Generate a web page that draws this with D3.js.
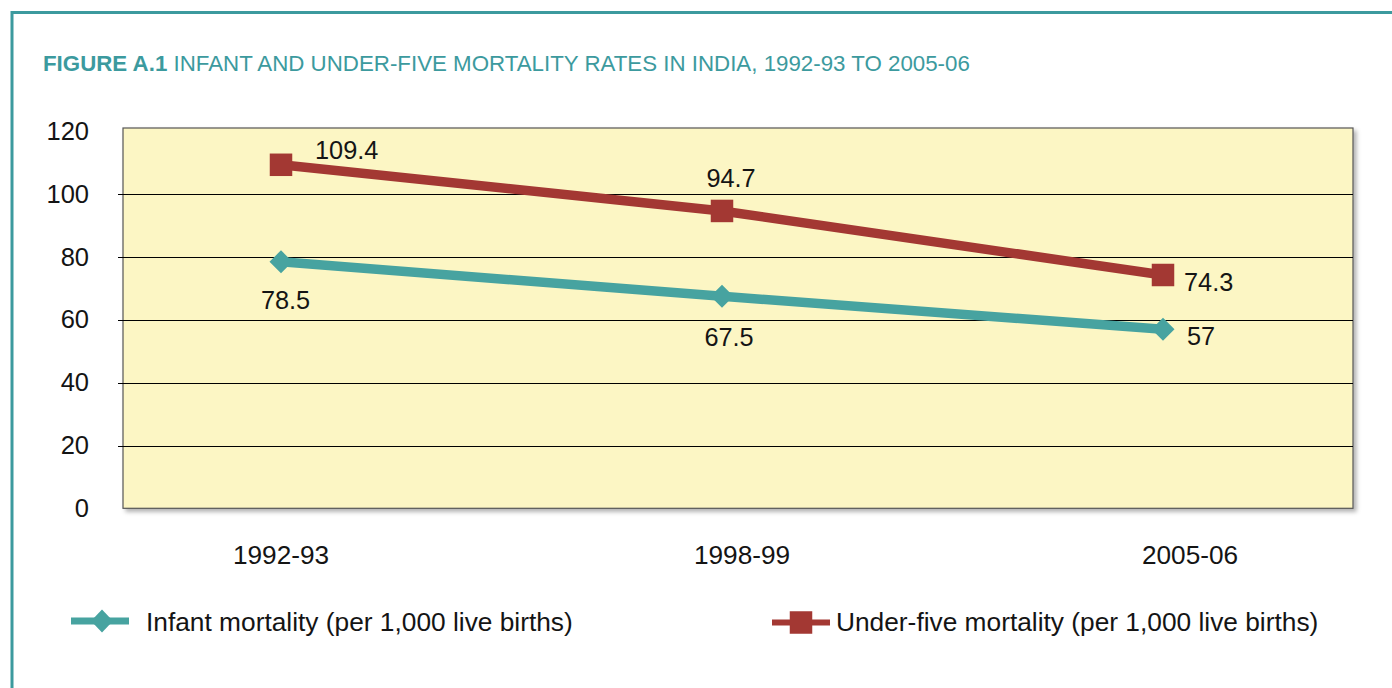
<!DOCTYPE html>
<html>
<head>
<meta charset="utf-8">
<script src="https://cdn.jsdelivr.net/npm/d3@7"></script>
<style>
  html, body { margin: 0; padding: 0; background: #fff; }
  svg { display: block; font-family: "Liberation Sans", Arial, Helvetica, sans-serif; }
</style>
</head>
<body>
<svg id="chart" width="1392" height="688"></svg>
<script>
// Survey rounds and rates per 1,000 live births
const periods = ["1992-93", "1998-99", "2005-06"];
const infantMortality = [78.5, 67.5, 57];
const underFiveMortality = [109.4, 94.7, 74.3];
const yTickValues = [0, 20, 40, 60, 80, 100, 120];
const seriesNames = [
  "Infant mortality (per 1,000 live births)",
  "Under-five mortality (per 1,000 live births)"
];

const TEAL = "#47a3a0";
const RED = "#a33833";
const TITLE_TEAL = "#3c9a9e";
const INK = "#141414";

const svg = d3.select("#chart");

// Outer figure frame (top and left edges visible)
svg.append("path")
  .attr("d", "M12,700 L12,12.5 L1400,12.5")
  .attr("fill", "none")
  .attr("stroke", TITLE_TEAL)
  .attr("stroke-width", 3);

// Title
const title = svg.append("text")
  .attr("x", 43)
  .attr("y", 71)
  .attr("font-size", 22.3)
  .attr("fill", TITLE_TEAL);
title.append("tspan").attr("font-weight", "bold").text("FIGURE A.1");
title.append("tspan").text(" INFANT AND UNDER-FIVE MORTALITY RATES IN INDIA, 1992-93 TO 2005-06");

// Plot area
const plot = { left: 123, right: 1353, top: 128, bottom: 508.3 };

const y = d3.scaleLinear().domain([0, 120]).range([plot.bottom, 131.5]);
const xPoint = d3.scalePoint().domain(periods).range([281, 1163]);
const xLabel = d3.scaleOrdinal().domain(periods).range([281, 742, 1190]);

// Drop shadow for the plot box
const defs = svg.append("defs");
const shadow = defs.append("filter").attr("id", "plotShadow")
  .attr("x", "-2%").attr("y", "-2%").attr("width", "104%").attr("height", "106%");
shadow.append("feDropShadow")
  .attr("dx", 3).attr("dy", 3).attr("stdDeviation", 2)
  .attr("flood-color", "#000").attr("flood-opacity", 0.3);

svg.append("rect")
  .attr("x", plot.left).attr("y", plot.top)
  .attr("width", plot.right - plot.left).attr("height", plot.bottom - plot.top)
  .attr("fill", "#fcf6c4")
  .attr("stroke", "#555")
  .attr("stroke-width", 1.2)
  .attr("filter", "url(#plotShadow)");

// Gridlines with short ticks extending left of the box
const gridVals = yTickValues.filter(v => v > 0 && v < 120);
svg.append("g").selectAll("line")
  .data(gridVals)
  .join("line")
  .attr("x1", plot.left - 5).attr("x2", plot.right)
  .attr("y1", d => Math.round(y(d)) + 0.5).attr("y2", d => Math.round(y(d)) + 0.5)
  .attr("stroke", "#000").attr("stroke-width", 1);

// Y tick labels
svg.append("g").selectAll("text")
  .data(yTickValues)
  .join("text")
  .attr("x", 89)
  .attr("y", d => y(d) + 8.5)
  .attr("text-anchor", "end")
  .attr("font-size", 25.5)
  .attr("fill", INK)
  .text(d => d);

// X category labels
svg.append("g").selectAll("text")
  .data(periods)
  .join("text")
  .attr("x", d => xLabel(d))
  .attr("y", 564)
  .attr("text-anchor", "middle")
  .attr("font-size", 26.2)
  .attr("fill", INK)
  .text(d => d);

// Series
const series = [
  { name: seriesNames[0], values: infantMortality, color: TEAL, marker: "diamond",
    labels: [ { dx: 4.5, dy: 47, anchor: "middle" },
              { dx: 7, dy: 50, anchor: "middle" },
              { dx: 24, dy: 16, anchor: "start" } ] },
  { name: seriesNames[1], values: underFiveMortality, color: RED, marker: "square",
    labels: [ { dx: 34, dy: -5.5, anchor: "start" },
              { dx: 9, dy: -23.5, anchor: "middle" },
              { dx: 21, dy: 16, anchor: "start" } ] }
];

const line = d3.line()
  .x((d, i) => xPoint(periods[i]))
  .y(d => y(d));

function drawMarker(g, type, cx, cy, w, h, color) {
  if (type === "diamond") {
    g.append("path")
      .attr("d", `M${cx},${cy - h / 2} L${cx + w / 2},${cy} L${cx},${cy + h / 2} L${cx - w / 2},${cy} Z`)
      .attr("fill", color);
  } else {
    g.append("rect")
      .attr("x", cx - w / 2).attr("y", cy - h / 2)
      .attr("width", w).attr("height", h)
      .attr("fill", color);
  }
}

series.forEach(s => {
  const g = svg.append("g");
  g.append("path")
    .attr("d", line(s.values))
    .attr("fill", "none")
    .attr("stroke", s.color)
    .attr("stroke-width", 9.5)
    .attr("stroke-linejoin", "miter");
  s.values.forEach((v, i) => {
    const cx = xPoint(periods[i]), cy = y(v);
    if (s.marker === "diamond") drawMarker(g, "diamond", cx, cy, 23, 23, s.color);
    else drawMarker(g, "square", cx, cy, 22.5, 22.5, s.color);
  });
  g.selectAll("text.value")
    .data(s.values)
    .join("text")
    .attr("class", "value")
    .attr("x", (d, i) => xPoint(periods[i]) + s.labels[i].dx)
    .attr("y", (d, i) => y(d) + s.labels[i].dy)
    .attr("text-anchor", (d, i) => s.labels[i].anchor)
    .attr("font-size", 25.3)
    .attr("fill", INK)
    .text(d => d);
});

// Legend
const legendItems = [
  { s: series[0], x0: 71, x1: 129, ly: 621, thick: 7, mx: 102, mw: 22, mh: 23, tx: 146 },
  { s: series[1], x0: 772, x1: 830, ly: 622.5, thick: 6, mx: 801, mw: 22.5, mh: 22.5, tx: 836 }
];
legendItems.forEach(it => {
  const g = svg.append("g");
  g.append("line")
    .attr("x1", it.x0).attr("x2", it.x1)
    .attr("y1", it.ly).attr("y2", it.ly)
    .attr("stroke", it.s.color).attr("stroke-width", it.thick);
  drawMarker(g, it.s.marker, it.mx, it.ly, it.mw, it.mh, it.s.color);
  g.append("text")
    .attr("x", it.tx).attr("y", 631)
    .attr("font-size", 26.3)
    .attr("fill", INK)
    .text(it.s.name);
});
</script>
</body>
</html>
